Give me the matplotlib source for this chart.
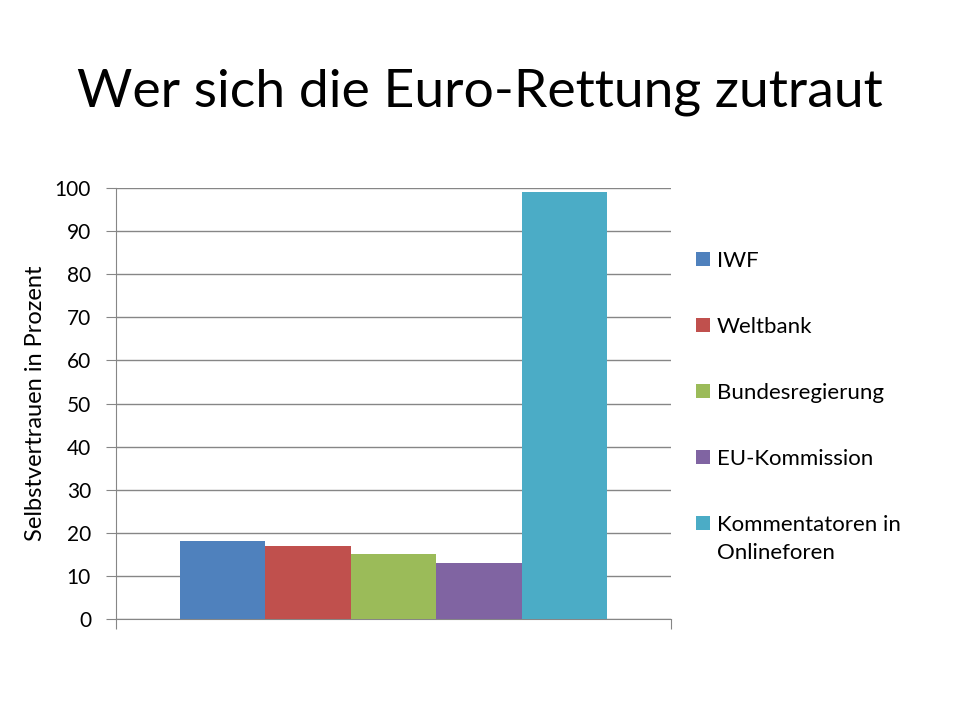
import matplotlib
matplotlib.use("Agg")
from matplotlib import pyplot as plt
from matplotlib.patches import Patch

#------------------------------------------------------------------------
# Data
#------------------------------------------------------------------------

labels = ["IWF", "Weltbank", "Bundesregierung", "EU-Kommission",
          "Kommentatoren in\nOnlineforen"]
values = [18, 17, 15, 13, 99]
colors = ["#4F81BD", "#C0504D", "#9BBB59", "#8064A2", "#4BACC6"]
yticks = list(range(0, 101, 10))

title = "Wer sich die Euro-Rettung zutraut"
ylabel = "Selbstvertrauen in Prozent"

plt.rcParams["font.family"] = ["Lato", "DejaVu Sans"]

fig = plt.figure(figsize=(9.6, 7.2), dpi=100)
ax = fig.add_axes([116 / 960, 1 - 619 / 720, 555 / 960, 431 / 720])

group = 0.77
w = group / len(values)
start = -group / 2 + w / 2
for i, (v, c, lab) in enumerate(zip(values, colors, labels)):
  ax.bar(start + i * w, v, width=w, color=c, label=lab, zorder=3)

ax.set_xlim(-0.5, 0.5)
ax.set_ylim(0, 100)
ax.set_yticks(yticks)
ax.set_xticks([-0.5, 0.5])
ax.set_xticklabels(["", ""])
ax.tick_params(axis="x", direction="out", length=7, color="#868686")
ax.tick_params(axis="y", direction="out", length=7, color="#868686",
               labelsize=15, pad=11)
ax.grid(axis="y", color="#868686", linewidth=1, zorder=0)

for s in ["top", "right"]:
  ax.spines[s].set_visible(False)
for s in ["left", "bottom"]:
  ax.spines[s].set_color("#868686")

ax.set_ylabel(ylabel, fontsize=17, labelpad=6)

# legend: square aligned with the first line of each label
first_lines = [l.split("\n")[0] for l in labels]
handles = [Patch(facecolor=c) for c in colors]
leg = fig.legend(handles, first_lines, loc="upper left",
                 bbox_to_anchor=(685 / 960, 1 - 240 / 720),
                 frameon=False, fontsize=16, labelspacing=2.07,
                 handlelength=0.62, handleheight=0.62, handletextpad=0.3,
                 borderpad=0)

fig.canvas.draw()
for lab, t in zip(labels, leg.get_texts()):
  extra = lab.split("\n")[1:]
  if not extra:
    continue
  bb = t.get_window_extent()
  for k, line in enumerate(extra):
    fig.text(bb.x0 / 960, (bb.y0 - 28 * (k + 1)) / 720, line,
             fontsize=16, ha="left", va="bottom")

fig.text(0.5, 1 - 92 / 720, title, ha="center", va="center", fontsize=38.5)

fig.savefig("out.png", dpi=100)
